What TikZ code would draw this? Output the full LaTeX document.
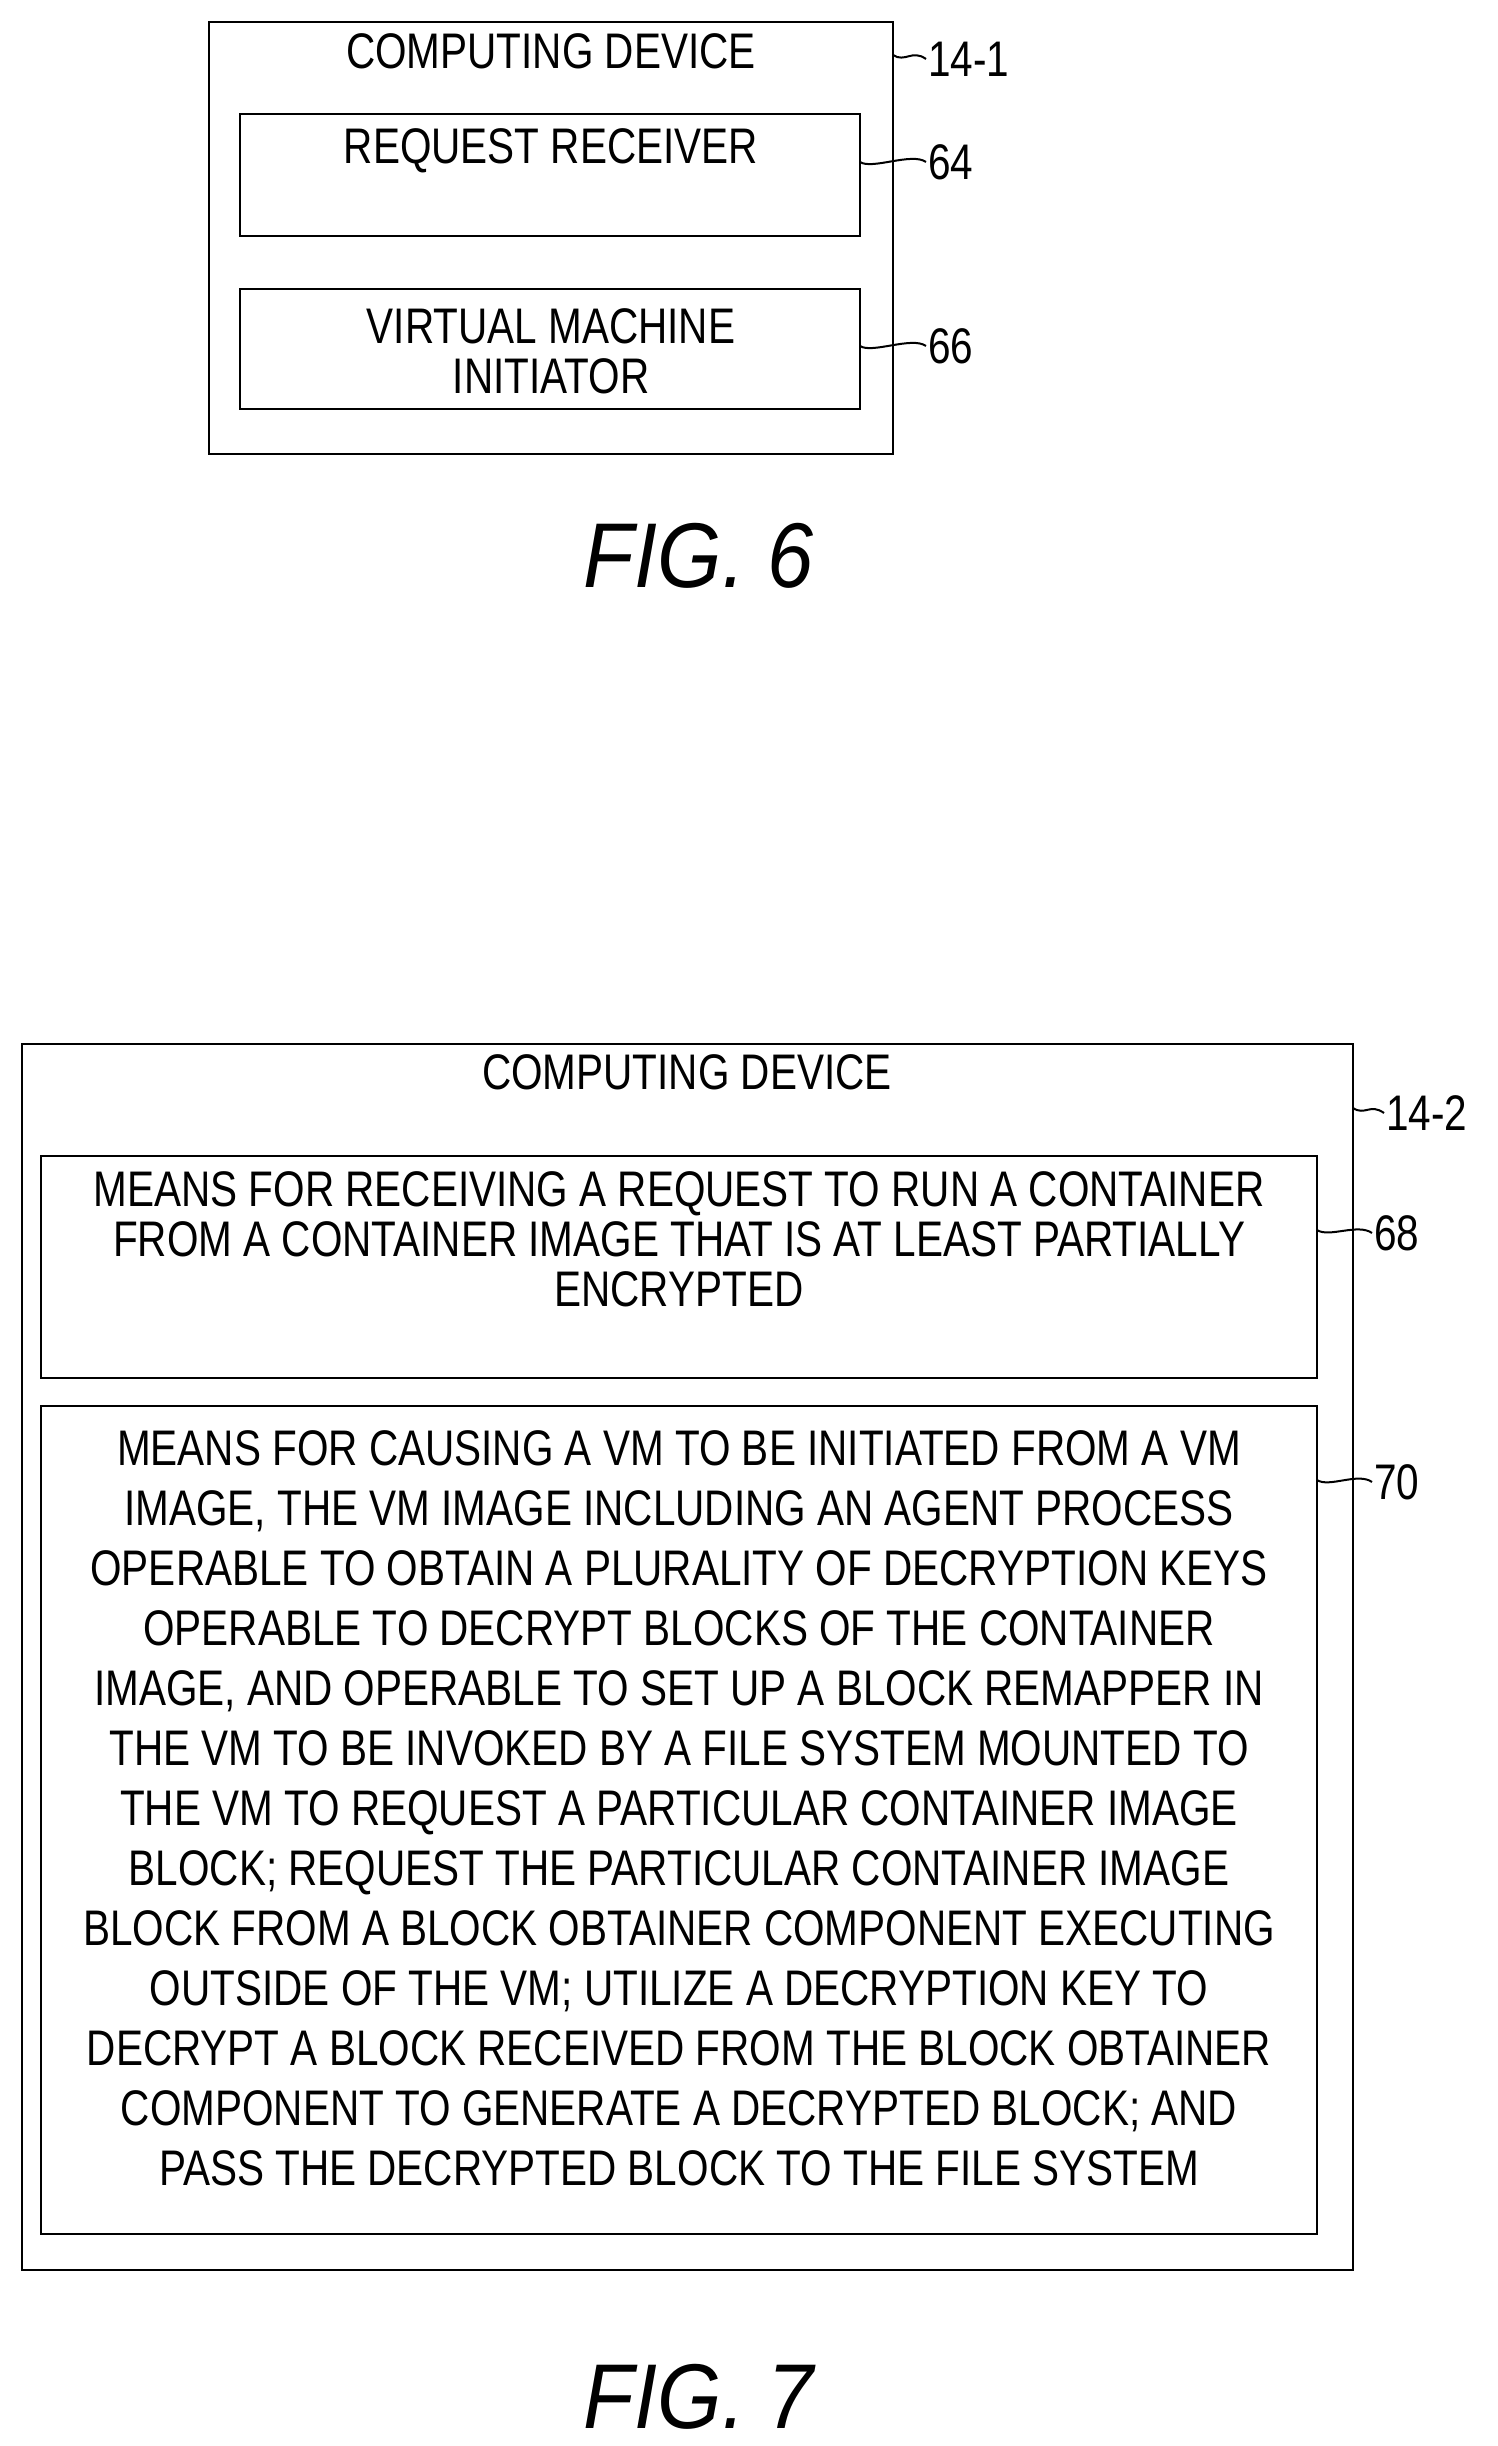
\documentclass[tikz,border=0pt]{standalone}
\usepackage{fontspec}
\setmainfont{Liberation Sans}[FakeStretch=0.81]
\newfontfamily\capfont{Liberation Sans}[FakeStretch=0.9]
\begin{document}
\begin{tikzpicture}[x=1pt,y=-1pt,
  box/.style={draw,line width=2.2pt},
  txt/.style={font=\fontsize{50}{50}\selectfont,align=center,inner sep=0},
  lbl/.style={font=\fontsize{50}{50}\selectfont,anchor=west,inner sep=2pt},
  sq/.style={line width=2pt}]
\useasboundingbox (0,0) rectangle (1498,2446);
% FIG 6
\draw[box] (209,22) rectangle (893,454);
\draw[box] (240,114) rectangle (860,236);
\draw[box] (240,289) rectangle (860,409);
\node[txt] (cd6) at (551,51) {COMPUTING DEVICE};
\node[txt] (rr) at (551,151) {REQUEST RECEIVER};
\node[txt] (vm) at (551,351) {VIRTUAL MACHINE\\INITIATOR};
\coordinate (a1) at (893,55);
\coordinate (a2) at (860,162);
\coordinate (a3) at (860,346);
\node[lbl] (l141) at (926,59) {14-1};
\node[lbl] (l64) at (926,162) {64};
\node[lbl] (l66) at (926,346) {66};
\foreach \a/\l in {a1/l141,a2/l64,a3/l66}
  \draw[sq] (\a) .. controls +(12,8) and +(-14,-10) .. (\l.west);
\node[font=\capfont\itshape\fontsize{92}{96}\selectfont,inner sep=0] (f6) at (699,556) {FIG. 6};
% FIG 7
\draw[box] (22,1044) rectangle (1353,2270);
\draw[box] (41,1156) rectangle (1317,1378);
\draw[box] (41,1406) rectangle (1317,2234);
\node[txt] (cd7) at (687,1072) {COMPUTING DEVICE};
\node[txt] (m68) at (679,1239) {MEANS FOR RECEIVING A REQUEST TO RUN A CONTAINER\\FROM A CONTAINER IMAGE THAT IS AT LEAST PARTIALLY\\ENCRYPTED};
\node[txt,font=\fontsize{50}{60}\selectfont] (m70) at (679,1808) {MEANS FOR CAUSING A VM TO BE INITIATED FROM A VM\\
IMAGE, THE VM IMAGE INCLUDING AN AGENT PROCESS\\
OPERABLE TO OBTAIN A PLURALITY OF DECRYPTION KEYS\\
OPERABLE TO DECRYPT BLOCKS OF THE CONTAINER\\
IMAGE, AND OPERABLE TO SET UP A BLOCK REMAPPER IN\\
THE VM TO BE INVOKED BY A FILE SYSTEM MOUNTED TO\\
THE VM TO REQUEST A PARTICULAR CONTAINER IMAGE\\
BLOCK; REQUEST THE PARTICULAR CONTAINER IMAGE\\
BLOCK FROM A BLOCK OBTAINER COMPONENT EXECUTING\\
OUTSIDE OF THE VM; UTILIZE A DECRYPTION KEY TO\\
DECRYPT A BLOCK RECEIVED FROM THE BLOCK OBTAINER\\
COMPONENT TO GENERATE A DECRYPTED BLOCK; AND\\
PASS THE DECRYPTED BLOCK TO THE FILE SYSTEM};
\coordinate (b1) at (1353,1108);
\coordinate (b2) at (1317,1230);
\coordinate (b3) at (1317,1480);
\node[lbl] (l142) at (1384,1113) {14-2};
\node[lbl] (l68) at (1372,1233) {68};
\node[lbl] (l70) at (1372,1482) {70};
\foreach \a/\l in {b1/l142,b2/l68,b3/l70}
  \draw[sq] (\a) .. controls +(12,8) and +(-14,-10) .. (\l.west);
\node[font=\capfont\itshape\fontsize{92}{96}\selectfont,inner sep=0] (f7) at (699,2397) {FIG. 7};
\end{tikzpicture}
\end{document}
